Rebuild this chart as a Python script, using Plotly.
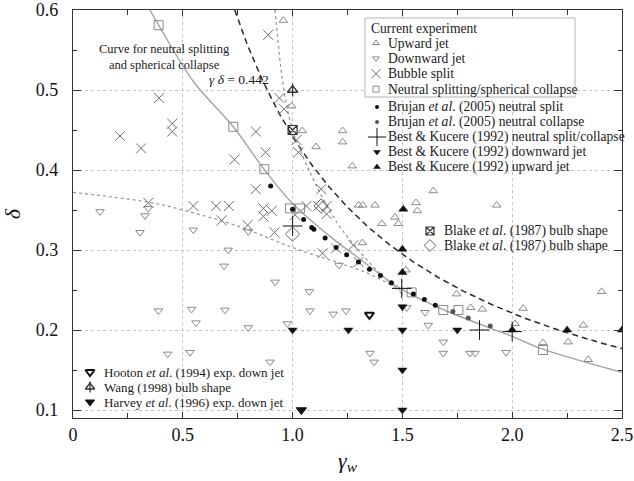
import numpy as np
import plotly.graph_objects as go

# ---------------- data -----------------
# current experiment
up_g = [0.958, 0.996, 1.044, 1.228, 1.228, 1.107, 1.272, 1.641, 1.30, 1.32, 1.375, 1.562, 1.568, 1.929,
        1.406, 1.466, 1.481, 1.318, 1.516, 1.747, 1.811, 1.864, 2.05, 2.013, 2.14, 2.324, 2.255, 2.407, 2.346]
up_d = [0.587, 0.48, 0.449, 0.449, 0.435, 0.429, 0.405, 0.374, 0.356, 0.356, 0.356, 0.359, 0.349, 0.356,
        0.333, 0.341, 0.333, 0.309, 0.275, 0.245, 0.228, 0.226, 0.227, 0.208, 0.184, 0.206, 0.185, 0.248, 0.163]

down_g = [0.123, 0.343, 0.328, 0.305, 0.548, 0.707, 0.688, 0.798, 0.92, 1.076, 0.389, 0.54, 0.692, 0.56,
          0.798, 0.976, 1.079, 1.185, 1.243, 0.431, 0.533, 0.897, 1.211, 1.352, 1.371, 1.52, 1.603, 1.618,
          1.686, 1.686, 1.808, 1.831, 1.972]
down_d = [0.348, 0.352, 0.343, 0.322, 0.325, 0.30, 0.28, 0.323, 0.26, 0.248, 0.224, 0.226, 0.225, 0.209,
          0.203, 0.208, 0.224, 0.22, 0.224, 0.17, 0.172, 0.16, 0.281, 0.171, 0.16, 0.228, 0.222, 0.206,
          0.185, 0.171, 0.171, 0.171, 0.172]

split_g = [0.889, 0.392, 0.452, 0.452, 0.214, 0.31, 0.735, 0.833, 0.877, 0.832, 0.94, 0.961, 1.018, 1.026,
           1.13, 0.867, 0.905, 0.867, 1.063, 1.117, 1.155, 1.155, 1.011, 0.795, 0.918, 1.136, 1.198, 1.277,
           0.71, 0.343, 0.548, 0.652, 0.677, 1.30]
split_d = [0.569, 0.49, 0.458, 0.448, 0.4425, 0.427, 0.413, 0.448, 0.422, 0.376, 0.49, 0.476, 0.4375, 0.422,
           0.376, 0.352, 0.349, 0.342, 0.355, 0.355, 0.355, 0.345, 0.344, 0.331, 0.322, 0.296, 0.302, 0.306,
           0.355, 0.359, 0.355, 0.355, 0.337, 0.285]

neutral_g = [0.39, 0.73, 0.871, 0.988, 1.034, 1.542, 1.686, 1.755, 2.14]
neutral_d = [0.581, 0.454, 0.401, 0.352, 0.352, 0.247, 0.225, 0.225, 0.175]

# literature data
brujan_split_g = [0.90, 1.0, 1.05, 1.087, 1.097, 1.148, 1.198, 1.246, 1.30, 1.35, 1.40, 1.45, 1.55, 1.60, 1.65]
brujan_split_d = [0.38, 0.351, 0.338, 0.328, 0.326, 0.315, 0.303, 0.294, 0.285, 0.276, 0.268, 0.259, 0.245, 0.238, 0.231]
brujan_coll_g = [1.73, 1.80, 1.90]
brujan_coll_d = [0.223, 0.215, 0.205]

best_neutral_g = [1.0, 1.497, 1.851, 2.0]
best_neutral_d = [0.33, 0.252, 0.2, 0.198]
best_down_g = [1.0, 1.254, 1.5, 1.75, 1.5, 1.5, 1.5]
best_down_d = [0.2, 0.2, 0.2, 0.2, 0.229, 0.15, 0.1]
best_up_g = [1.504, 1.5, 1.5, 2.0, 2.25, 2.5]
best_up_d = [0.351, 0.301, 0.272, 0.2, 0.2, 0.2]

blake_bulb_g = [1.0]
blake_bulb_d = [0.45]
blake_dia_g = [1.0, 1.13]
blake_dia_d = [0.32, 0.355]

hooton_g = [1.35]
hooton_d = [0.219]
wang_g = [1.0]
wang_d = [0.5]
harvey_g = [1.04]
harvey_d = [0.1]

# curves
neutral_curve_g = [0.35, 0.39, 0.55, 0.73, 0.87, 1.0, 1.17, 1.3, 1.49, 1.69, 2.0, 2.14, 2.5]
neutral_curve_d = [0.6, 0.581, 0.51, 0.454, 0.401, 0.358, 0.317, 0.29, 0.252, 0.225, 0.192, 0.176, 0.147]
upper_dot_g = [0.92, 0.96, 1.0, 1.05, 1.1, 1.2, 1.3, 1.4, 1.5]
upper_dot_d = [0.6, 0.5, 0.45, 0.415, 0.385, 0.335, 0.30, 0.27, 0.245]
lower_dot_g = [0.0, 0.34, 0.5, 0.76, 0.99, 1.22, 1.35, 1.49]
lower_dot_d = [0.372, 0.36, 0.35, 0.329, 0.304, 0.283, 0.27, 0.25]
gamma_delta = 0.442

x_ticks = [0, 0.5, 1.0, 1.5, 2.0, 2.5]
x_ticktext = ["0", "0.5", "1.0", "1.5", "2.0", "2.5"]
y_ticks = [0.1, 0.2, 0.3, 0.4, 0.5, 0.6]
y_ticktext = ["0.1", "0.2", "0.3", "0.4", "0.5", "0.6"]

# ---------------- styles -----------------
FONT = "'Liberation Serif', 'DejaVu Serif', serif"
GREY = "#8a8a8a"
BLACK = "#111111"
TXT = "#1a1a1a"

# plot area in page pixels
L, R, T, B = 73, 622, 10, 418
W, H = 634, 481
X_RANGE = [0, 2.5]
Y_RANGE = [0.09, 0.6]


def px_to_x(px):
    return X_RANGE[0] + (px - L) / (R - L) * (X_RANGE[1] - X_RANGE[0])


def px_to_y(py):
    return Y_RANGE[1] - (py - T) / (B - T) * (Y_RANGE[1] - Y_RANGE[0])


fig = go.Figure()


def add(xs, ys, symbol, color, size, lw=1.0, axes=("x", "y")):
    fig.add_trace(go.Scatter(
        x=xs, y=ys, mode="markers", showlegend=False,
        xaxis=axes[0], yaxis=axes[1], cliponaxis=True,
        marker=dict(symbol=symbol, size=size, color=color,
                    line=dict(width=lw, color=color)),
        hoverinfo="skip"))


# curves
gd = np.linspace(gamma_delta / 0.6, 2.5, 200)
fig.add_trace(go.Scatter(x=gd, y=gamma_delta / gd, mode="lines", showlegend=False,
                         line=dict(color="#2b2b2b", width=1.5, dash="6px,4px")))
fig.add_trace(go.Scatter(x=upper_dot_g, y=upper_dot_d, mode="lines", showlegend=False,
                         line=dict(color="#9a9a9a", width=1.3, dash="dot", shape="spline", smoothing=1.0)))
fig.add_trace(go.Scatter(x=lower_dot_g, y=lower_dot_d, mode="lines", showlegend=False,
                         line=dict(color="#9a9a9a", width=1.3, dash="dot", shape="spline", smoothing=1.0)))
fig.add_trace(go.Scatter(x=neutral_curve_g, y=neutral_curve_d, mode="lines", showlegend=False,
                         line=dict(color="#a3a3a3", width=1.4, shape="spline", smoothing=1.0)))

# marker styles: (symbol, color, size, line width)
styles = {
    "up": ("triangle-up-open", GREY, 7.5, 1.0),
    "down": ("triangle-down-open", GREY, 7.5, 1.0),
    "split": ("x-thin-open", "#6f6f6f", 10, 1.0),
    "neutral": ("square-open", GREY, 9, 1.0),
    "bsplit": ("circle", BLACK, 5, 0),
    "bcoll": ("circle", "#555555", 5, 0),
    "bneutral": ("cross-thin-open", BLACK, 14, 1.0),
    "bdown": ("triangle-down", BLACK, 8, 0.5),
    "bup": ("triangle-up", BLACK, 8, 0.5),
    "blake1": ("square-x-open", "#333333", 9, 1.2),
    "blake2": ("diamond-open", "#666666", 11, 1.0),
    "hooton": ("triangle-down-open", BLACK, 8, 2.0),
    "wang1": ("triangle-up-open", "#333333", 9, 1.3),
    "wang2": ("line-ns-open", "#333333", 9, 1.3),
    "harvey": ("triangle-down", BLACK, 9, 1.0),
}


def draw(key, xs, ys, axes=("x", "y"), size=None):
    s, c, sz, lw = styles[key]
    add(xs, ys, s, c, size if size else sz, lw, axes)


draw("up", up_g, up_d)
draw("down", down_g, down_d)
draw("split", split_g, split_d)
draw("neutral", neutral_g, neutral_d)
draw("bsplit", brujan_split_g, brujan_split_d)
draw("bcoll", brujan_coll_g, brujan_coll_d)
draw("bneutral", best_neutral_g, best_neutral_d)
draw("bdown", best_down_g, best_down_d)
draw("bup", best_up_g, best_up_d)
draw("blake1", blake_bulb_g, blake_bulb_d)
draw("blake2", blake_dia_g, blake_dia_d)
draw("hooton", hooton_g, hooton_d)
draw("wang1", wang_g, wang_d)
draw("wang2", wang_g, wang_d)
draw("harvey", harvey_g, harvey_d)

# ---------------- hand-laid legends (page-pixel overlay axes) -----------------
legend_groups = [
    # (key x, text x, first row y, row step, font size, entries)
    (376, 386, 43, 15.4, 13.6, [(["up"], "Upward jet"), (["down"], "Downward jet"),
                                (["split"], "Bubble split"), (["neutral"], "Neutral splitting/spherical collapse")]),
    (377, 386, 107, 15.0, 13.6, [(["bsplit"], "Brujan <i>et al</i>. (2005) neutral split"),
                                 (["bcoll"], "Brujan <i>et al</i>. (2005) neutral collapse"),
                                 (["bneutral"], "Best &amp; Kucere (1992) neutral split/collapse"),
                                 (["bdown"], "Best &amp; Kucere (1992) downward jet"),
                                 (["bup"], "Best &amp; Kucere (1992) upward jet")]),
    (430, 442, 231, 14.5, 13.6, [(["blake1"], "Blake <i>et al</i>. (1987) bulb shape"),
                                 (["blake2"], "Blake <i>et al</i>. (1987) bulb shape")]),
    (90, 102, 372, 15.0, 13.0, [(["hooton"], "Hooton <i>et al</i>. (1994) exp. down jet"),
                                (["wang1", "wang2"], "Wang (1998) bulb shape"),
                                (["harvey"], "Harvey <i>et al</i>. (1996) exp. down jet")]),
]
legend_keysize = {"up": 6, "down": 6, "split": 9, "neutral": 6, "bsplit": 4, "bcoll": 4, "bneutral": 13,
                  "bdown": 6, "bup": 6, "blake1": 8, "blake2": 9, "hooton": 8, "wang1": 8, "wang2": 8, "harvey": 8}

annotations = []
for kx, tx, y0, step, fsize, entries in legend_groups:
    for i, (keys, label) in enumerate(entries):
        yy = y0 + i * step
        for k in keys:
            draw(k, [kx], [yy], axes=("x2", "y2"), size=legend_keysize[k])
        annotations.append(dict(x=tx, y=yy, xref="x2", yref="y2", text=label, showarrow=False,
                                xanchor="left", yanchor="middle",
                                font=dict(family=FONT, size=fsize, color=TXT)))

annotations.append(dict(x=369, y=28, xref="x2", yref="y2", text="Current experiment", showarrow=False,
                        xanchor="left", yanchor="middle", font=dict(family=FONT, size=13.6, color=TXT)))
annotations.append(dict(x=164, y=57, xref="x2", yref="y2",
                        text="Curve for neutral splitting<br>and spherical collapse", showarrow=False,
                        xanchor="center", yanchor="middle", align="center",
                        font=dict(family=FONT, size=12.5, color=TXT)))
annotations.append(dict(x=207, y=79, xref="x2", yref="y2",
                        text=f"<i>γ δ</i> = {gamma_delta}", showarrow=False,
                        xanchor="left", yanchor="middle", font=dict(family=FONT, size=13.5, color=TXT)))

# framed box behind the first legend group (drawn above the grid, below the marks)
shapes = [dict(type="rect", xref="x", yref="y",
               x0=px_to_x(365), x1=px_to_x(575), y0=px_to_y(97), y1=px_to_y(18),
               line=dict(color="#b5b5b5", width=1), fillcolor="white", layer="between")]

axis_common = dict(showline=True, linecolor="#333333", linewidth=1.2, mirror="ticks",
                   ticks="inside", tickcolor="#333333", showgrid=True, gridcolor="#c4c4c4",
                   griddash="dot", gridwidth=1, zeroline=False, automargin=False,
                   tickfont=dict(family=FONT, size=18, color="#111111"))

fig.update_layout(
    width=W, height=H,
    margin=dict(l=L, r=W - R, t=T, b=H - B, autoexpand=False),
    paper_bgcolor="white", plot_bgcolor="white",
    font=dict(family=FONT, color="#111111"),
    showlegend=False,
    xaxis=dict(range=X_RANGE, tickvals=x_ticks, ticktext=x_ticktext, ticklen=6,
               minor=dict(dtick=0.25, tick0=0, ticks="inside", ticklen=5, tickcolor="#333333", showgrid=False),
               title=dict(text="<i>γ<sub>w</sub></i>", font=dict(family=FONT, size=22), standoff=8),
               **axis_common),
    yaxis=dict(range=Y_RANGE, tickvals=y_ticks, ticktext=y_ticktext, ticklen=8,
               ticklabelstandoff=10,
               minor=dict(dtick=0.05, tick0=0, ticks="inside", ticklen=4, tickcolor="#333333", showgrid=False),
               title=dict(text="<i>δ</i>", font=dict(family=FONT, size=22), standoff=14),
               **axis_common),
    xaxis2=dict(range=[L, R], overlaying="x", visible=False, fixedrange=True),
    yaxis2=dict(range=[B, T], overlaying="y", visible=False, fixedrange=True),
    annotations=annotations,
    shapes=shapes,
)

fig.write_html("out.html")
